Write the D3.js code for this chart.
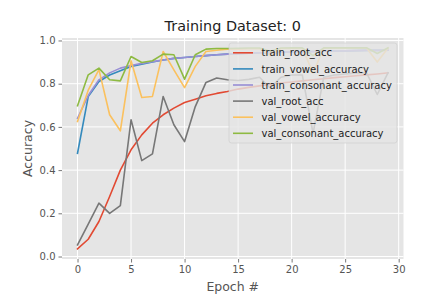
<!DOCTYPE html>
<html><head><meta charset="utf-8">
<script src="https://cdn.jsdelivr.net/npm/d3@7"></script>
<style>body{margin:0;background:#fff}svg{display:block}text{font-family:"DejaVu Sans",sans-serif}</style>
</head><body>
<svg id="c" width="425" height="298"></svg>
<script>
const epochs = d3.range(0, 30);
const trainRootAcc = [0.035,0.08,0.162,0.278,0.40,0.494,0.563,0.617,0.656,0.687,0.713,0.728,0.744,0.755,0.764,0.775,0.783,0.79,0.797,0.803,0.808,0.813,0.818,0.823,0.828,0.832,0.837,0.841,0.845,0.85];
const trainVowelAcc = [0.478,0.74,0.81,0.84,0.86,0.88,0.89,0.90,0.91,0.917,0.921,0.926,0.93,0.934,0.937,0.939,0.941,0.943,0.944,0.946,0.947,0.948,0.949,0.95,0.951,0.952,0.953,0.954,0.954,0.955];
const trainConsonantAcc = [0.64,0.745,0.818,0.85,0.872,0.884,0.894,0.902,0.91,0.917,0.921,0.926,0.93,0.934,0.937,0.939,0.941,0.943,0.944,0.946,0.947,0.948,0.949,0.95,0.951,0.952,0.953,0.954,0.954,0.955];
const valRootAcc = [0.054,0.15,0.247,0.20,0.236,0.633,0.444,0.475,0.741,0.61,0.532,0.694,0.806,0.826,0.818,0.815,0.82,0.83,0.78,0.83,0.84,0.84,0.57,0.83,0.84,0.845,0.85,0.85,0.75,0.85];
const valVowelAcc = [0.625,0.77,0.865,0.656,0.582,0.906,0.736,0.741,0.949,0.864,0.782,0.88,0.949,0.955,0.96,0.96,0.962,0.962,0.93,0.963,0.963,0.964,0.85,0.964,0.965,0.965,0.965,0.965,0.90,0.965];
const valConsonantAcc = [0.698,0.841,0.872,0.818,0.813,0.926,0.898,0.906,0.937,0.934,0.821,0.934,0.96,0.963,0.963,0.964,0.965,0.965,0.95,0.965,0.966,0.966,0.93,0.966,0.966,0.966,0.966,0.966,0.94,0.966];
const seriesNames = ["train_root_acc","train_vowel_accuracy","train_consonant_accuracy","val_root_acc","val_vowel_accuracy","val_consonant_accuracy"];
const seriesValues = [trainRootAcc,trainVowelAcc,trainConsonantAcc,valRootAcc,valVowelAcc,valConsonantAcc];
const colors = ["#E24A33","#348ABD","#988ED5","#777777","#FBC15E","#8EBA42"];
const xTicks = [0,5,10,15,20,25,30];
const yTicks = [0.0,0.2,0.4,0.6,0.8,1.0];

const svg = d3.select("#c");
const L=62, R=403.5, T=38, B=259;
const x = d3.scaleLinear().domain([-1.45,30.45]).range([L,R]);
const y = d3.scaleLinear().domain([-0.0115,1.0115]).range([B,T]);

svg.append("rect").attr("x",L).attr("y",T).attr("width",R-L).attr("height",B-T).attr("fill","#E5E5E5");
const g = svg.append("g");
g.selectAll(".gx").data(xTicks).join("line").attr("x1",d=>x(d)).attr("x2",d=>x(d)).attr("y1",T).attr("y2",B).attr("stroke","#fff").attr("stroke-width",1);
g.selectAll(".gy").data(yTicks).join("line").attr("y1",d=>y(d)).attr("y2",d=>y(d)).attr("x1",L).attr("x2",R).attr("stroke","#fff").attr("stroke-width",1);

const xAxis = d3.axisBottom(x).tickValues(xTicks).tickFormat(d3.format("d")).tickSize(3.5).tickPadding(3);
const yAxis = d3.axisLeft(y).tickValues(yTicks).tickFormat(d3.format(".1f")).tickSize(3.5).tickPadding(3);
const gx = svg.append("g").attr("transform",`translate(0,${B})`).call(xAxis);
const gy = svg.append("g").attr("transform",`translate(${L},0)`).call(yAxis);
[gx,gy].forEach(a=>{a.select(".domain").remove();a.selectAll("line").attr("stroke","#555").attr("stroke-width",0.8);a.selectAll("text").attr("fill","#555").attr("font-size",10).attr("font-family","DejaVu Sans");});

const line = d3.line().x((d,i)=>x(epochs[i])).y(d=>y(d));
seriesValues.forEach((vals,k)=>{
  svg.append("path").datum(vals).attr("d",line).attr("fill","none").attr("stroke",colors[k]).attr("stroke-width",1.6).attr("stroke-linejoin","round").attr("stroke-linecap","square");
});

// legend
const lg = svg.append("g");
lg.append("rect").attr("x",229).attr("y",43).attr("width",168).attr("height",100).attr("rx",2.5)
  .attr("fill","#E5E5E5").attr("fill-opacity",0.8).attr("stroke","#CCCCCC").attr("stroke-opacity",0.8).attr("stroke-width",0.8);
seriesNames.forEach((n,k)=>{
  const cy = 52.8 + k*16.1;
  lg.append("line").attr("x1",233).attr("x2",253).attr("y1",cy).attr("y2",cy).attr("stroke",colors[k]).attr("stroke-width",1.6);
  lg.append("text").attr("x",261.5).attr("y",cy+3.6).attr("font-size",10).attr("fill","#222").text(n);
});

svg.append("text").attr("x",(L+R)/2).attr("y",31).attr("text-anchor","middle").attr("font-size",14.4).attr("fill","#222").text("Training Dataset: 0");
svg.append("text").attr("x",(L+R)/2).attr("y",291).attr("text-anchor","middle").attr("font-size",12.5).attr("fill","#555").text("Epoch #");
svg.append("text").attr("transform",`translate(32,${(T+B)/2}) rotate(-90)`).attr("text-anchor","middle").attr("font-size",12.5).attr("fill","#555").text("Accuracy");
</script>
</body></html>
